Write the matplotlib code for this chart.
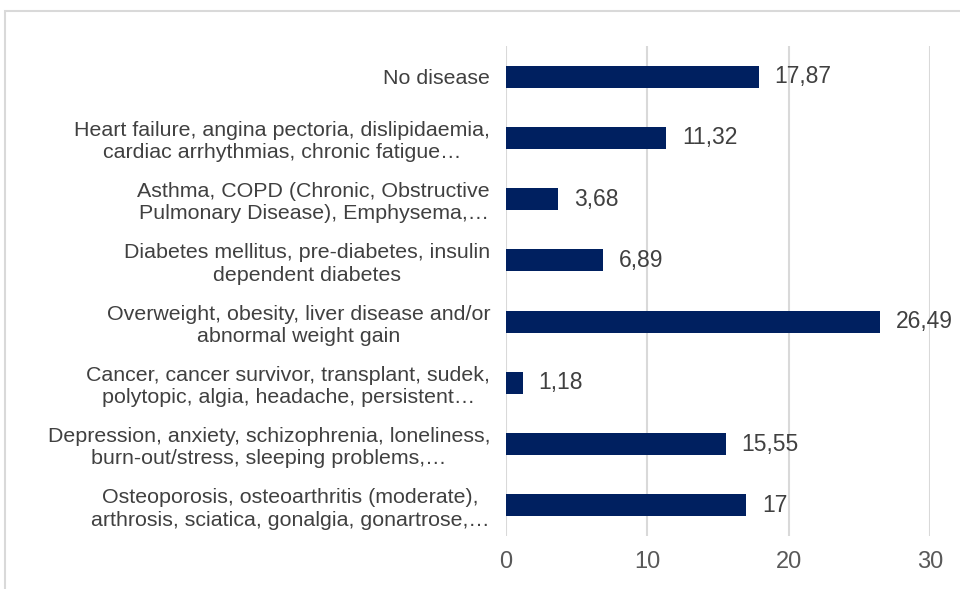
import matplotlib
matplotlib.use("Agg")
import matplotlib.pyplot as plt
from matplotlib.patches import Rectangle

plt.rcParams['font.family'] = ['Liberation Sans', 'DejaVu Sans']

categories = [
    "No disease",
    "Heart failure, angina pectoria, dislipidaemia,\ncardiac arrhythmias, chronic fatigue\u2026",
    "Asthma, COPD (Chronic, Obstructive\nPulmonary Disease), Emphysema,\u2026",
    "Diabetes mellitus, pre-diabetes, insulin\ndependent diabetes",
    "Overweight, obesity, liver disease and/or\nabnormal weight gain",
    "Cancer, cancer survivor, transplant, sudek,\npolytopic, algia, headache, persistent\u2026",
    "Depression, anxiety, schizophrenia, loneliness,\nburn-out/stress, sleeping problems,\u2026",
    "Osteoporosis, osteoarthritis (moderate),\narthrosis, sciatica, gonalgia, gonartrose,\u2026",
]
values = [17.87, 11.32, 3.68, 6.89, 26.49, 1.18, 15.55, 17]
value_labels = ["17,87", "11,32", "3,68", "6,89", "26,49", "1,18", "15,55", "17"]
xticks = [0, 10, 20, 30]

bar_color = "#002060"
text_color = "#404040"
tick_color = "#595959"
grid_color = "#d9d9d9"

fig = plt.figure(figsize=(9.6, 5.89), dpi=100)
ax = fig.add_axes([506 / 960, 1 - 536 / 589, (930 - 506) / 960, (536 - 46) / 589])

ypos = list(range(len(categories)))
ax.barh(ypos, values, height=0.36, color=bar_color, zorder=3)
for y, v, lab in zip(ypos, values, value_labels):
    ax.annotate(lab, (v, y), xytext=(11.5, 0), textcoords="offset points",
                va="center", ha="left", fontsize=16.5, color=text_color, zorder=4)

ax.set_xlim(0, 30)
ax.set_ylim(len(categories) - 0.5, -0.5)
ax.set_xticks(xticks)
ax.set_xticklabels([str(t) for t in xticks], fontsize=17, color=tick_color)
ax.set_yticks(ypos)
ax.set_yticklabels(categories, fontsize=15.4, color=text_color, linespacing=1.22)
for lbl in ax.get_yticklabels():
    lbl.set_multialignment("center")
ax.tick_params(axis="y", length=0, pad=11.5)
ax.tick_params(axis="x", length=0, pad=11)
ax.xaxis.grid(True, color=grid_color, linewidth=1.5, zorder=0)
for s in ax.spines.values():
    s.set_visible(False)

# light border around the chart area
fig.patches.append(Rectangle((5 / 960, -0.05), 1.2, 1 - 11 / 589 + 0.05,
                             transform=fig.transFigure, fill=False,
                             edgecolor=grid_color, linewidth=1.5))

fig.savefig("out.png", dpi=100)
